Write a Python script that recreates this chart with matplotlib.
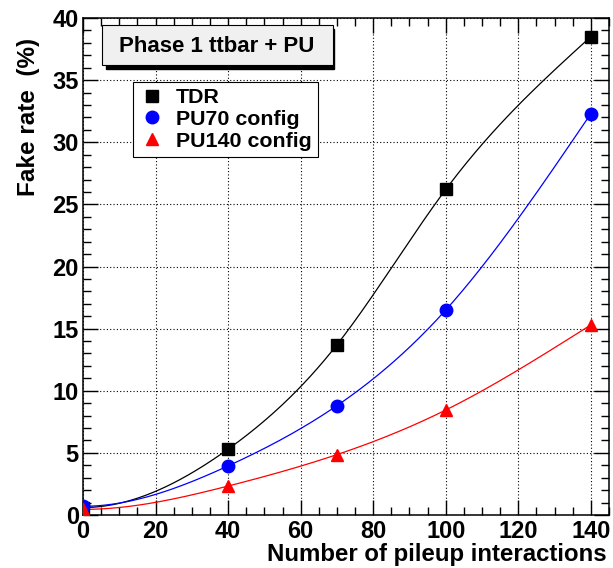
import numpy as np
import matplotlib.pyplot as plt
from matplotlib.patches import Rectangle
from matplotlib.ticker import MultipleLocator

plt.rcParams['font.family'] = ['Liberation Sans', 'DejaVu Sans']
plt.rcParams['font.weight'] = 'bold'

# Fake rate (%) vs number of pileup interactions
pileup = [0, 40, 70, 100, 140]
fake_tdr = [0.6, 5.3, 13.7, 26.2, 38.5]
fake_pu70 = [0.7, 3.95, 8.8, 16.5, 32.3]
fake_pu140 = [0.45, 2.33, 4.86, 8.45, 15.3]

labels = ['TDR', 'PU70 config', 'PU140 config']
colors = ['black', 'blue', 'red']
markers = ['s', 'o', '^']


def smooth(x, y, n=300):
    # cubic spline through the points: flat start, natural end
    x = np.asarray(x, float)
    y = np.asarray(y, float)
    k = len(x)
    h = np.diff(x)
    A = np.zeros((k, k))
    b = np.zeros(k)
    A[0, 0], A[0, 1] = 2 * h[0], h[0]
    b[0] = 3 * (y[1] - y[0]) / h[0]
    A[-1, -1] = 1
    for i in range(1, k - 1):
        A[i, i - 1] = h[i - 1]
        A[i, i] = 2 * (h[i - 1] + h[i])
        A[i, i + 1] = h[i]
        b[i] = 3 * ((y[i + 1] - y[i]) / h[i] - (y[i] - y[i - 1]) / h[i - 1])
    c = np.linalg.solve(A, b)
    xs = np.linspace(x[0], x[-1], n)
    idx = np.clip(np.searchsorted(x, xs) - 1, 0, k - 2)
    dx = xs - x[idx]
    bb = (y[idx + 1] - y[idx]) / h[idx] - h[idx] * (2 * c[idx] + c[idx + 1]) / 3
    d = (c[idx + 1] - c[idx]) / (3 * h[idx])
    return xs, y[idx] + bb * dx + c[idx] * dx**2 + d * dx**3


W, H = 613, 568
fig = plt.figure(figsize=(W / 100, H / 100), dpi=100)


def fx(px):
    return px / W


def fy(py):
    return 1 - py / H


ax = fig.add_axes([fx(83), fy(515), fx(609) - fx(83), fy(18) - fy(515)])

for yv, col, mk, lab in zip([fake_tdr, fake_pu70, fake_pu140], colors, markers, labels):
    xs, ys = smooth(pileup, yv)
    ax.plot(xs, ys, color=col, lw=0.9, zorder=3)
    ax.plot(pileup, yv, ls='none', marker=mk, color=col, ms=9, label=lab,
            zorder=4)

ax.set_xlim(0, 145)
ax.set_ylim(0, 40)
ax.xaxis.set_major_locator(MultipleLocator(20))
ax.xaxis.set_minor_locator(MultipleLocator(5))
ax.yaxis.set_major_locator(MultipleLocator(5))
ax.yaxis.set_minor_locator(MultipleLocator(1))
ax.tick_params(which='both', direction='in', top=True, right=True,
               width=1, labelsize=17)
ax.tick_params(which='major', length=11)
ax.tick_params(which='minor', length=5.5)
ax.tick_params(axis='x', pad=3.5)
ax.tick_params(axis='y', pad=3)
ax.grid(True, which='major', color='black', ls=(0, (1, 2)), lw=0.8)
for s in ax.spines.values():
    s.set_linewidth(1.1)

# title box with drop shadow
fig.patches.append(Rectangle((fx(106), fy(69)), fx(334) - fx(106), fy(29) - fy(69),
                             transform=fig.transFigure, facecolor='black',
                             edgecolor='black', zorder=5))
fig.patches.append(Rectangle((fx(102), fy(65)), fx(333) - fx(102), fy(25) - fy(65),
                             transform=fig.transFigure, facecolor='#f0f0f0',
                             edgecolor='black', lw=0.8, zorder=6))
fig.text(fx(217), fy(46), 'Phase 1 ttbar + PU', ha='center', va='center',
         fontsize=16, fontweight='bold', zorder=7)

leg = ax.legend(loc='upper left', bbox_to_anchor=(fx(133), fy(82)),
                bbox_transform=fig.transFigure, frameon=True, fancybox=False,
                edgecolor='black', framealpha=1, fontsize=15.4, handlelength=1.2,
                handletextpad=0.5, borderpad=0.3, labelspacing=0.12,
                borderaxespad=0)
leg.get_frame().set_linewidth(0.8)
leg.set_zorder(8)

fig.text(fx(28), fy(38), 'Fake rate  (%)', rotation=90, ha='center', va='top',
         fontsize=17.5, fontweight='bold')
fig.text(fx(607), fy(561), 'Number of pileup interactions', ha='right',
         va='baseline', fontsize=17.3, fontweight='bold')

fig.savefig('out.png', dpi=100)
